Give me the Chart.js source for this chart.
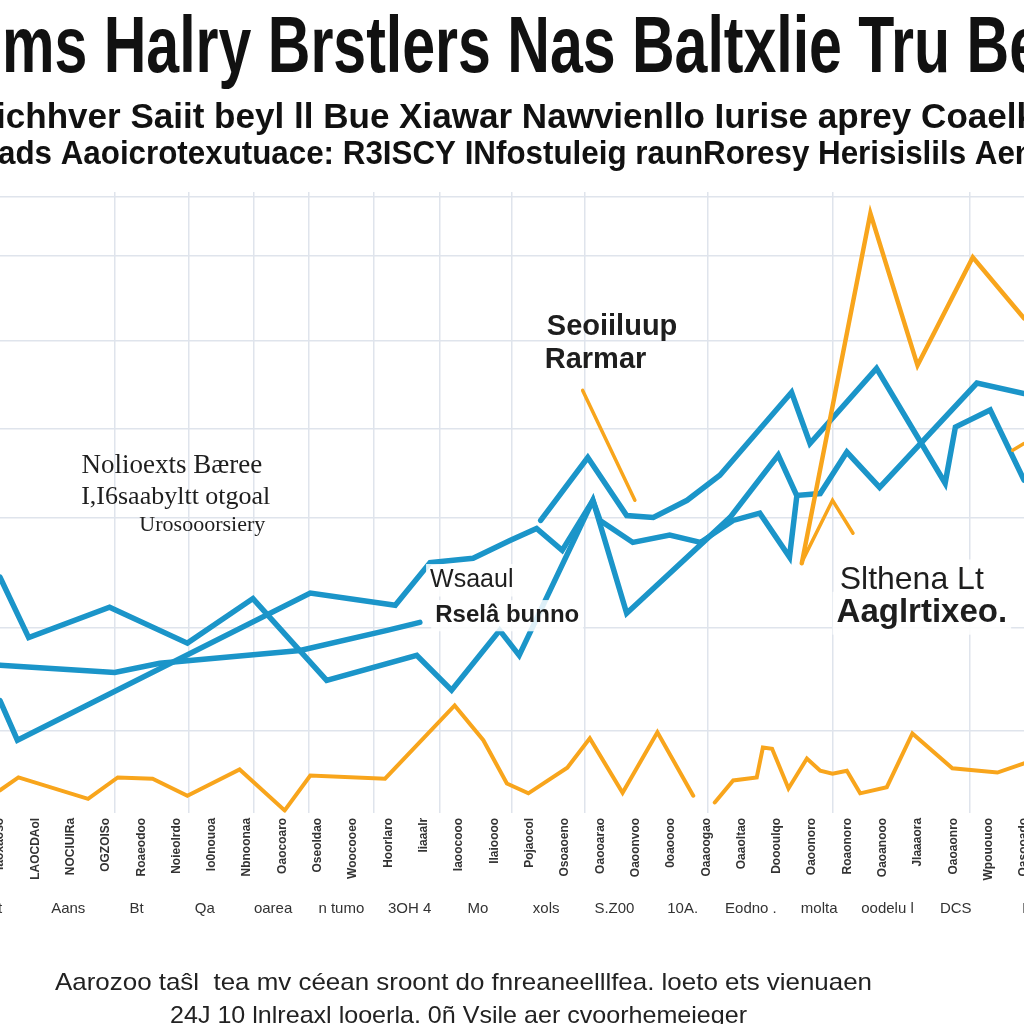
<!DOCTYPE html>
<html>
<head>
<meta charset="utf-8">
<script src="https://cdn.jsdelivr.net/npm/chart.js@4"></script>
<style>
  html, body { margin: 0; padding: 0; background: #fff; }
</style>
</head>
<body>
<canvas id="myChart" width="1024" height="1024"></canvas>
<script>
'use strict';

// texts
const titleText = 'ms Halry Brstlers Nas Baltxlie Tru Be';
const subtitleLines = [
  'ichhver Saiit beyl ll Bue Xiawar Nawvienllo Iurise aprey Coaelk',
  'ads Aaoicrotexutuace: R3ISCY INfostuleig raunRoresy Herisislils Aen',
];
const footerLines = [
  'Aarozoo taŝl  tea mv céean sroont do fnreaneelllfea. loeto ets vienuaen',
  '24J 10 lnlreaxl looerla. 0ñ Vsile aer cvoorhemeieger',
];

// category ticks (rotated) and the lower row of ticks
const categories = [
  'Iaoxaoso', 'LAOCDAol', 'NOCIUIRa', 'OGZOISo', 'Roaeodoo', 'Noieolrdo', 'lo0nouoa',
  'Nbnoonaa', 'Oaocoaro', 'Oseoldao', 'Woocooeo', 'Hoorlaro', 'Iiaaalr', 'Iaoocooo',
  'Ilaioooo', 'Pojaocol', 'Osoaoeno', 'Oaooarao', 'Oaoonvoo', '0oaoooo', 'Oaaoogao',
  'Oaaoltao', 'Doooulqo', 'Oaoonoro', 'Roaonoro', 'Oaoanooo', 'Jlaaaora', 'Oaoaonro',
  'Wpououoo', 'Oasooado',
];
const bottomLabels = [
  't', 'Aans', 'Bt', 'Qa', 'oarea', 'n tumo', '3OH 4', 'Mo', 'xols',
  'S.Z00', '10A.', 'Eodno .', 'molta', 'oodelu l', 'DCS', 'I',
];

// grid positions
const xGrid = [11.2, 18.4, 24.8, 30.2, 36.5, 42.9, 50.0, 57.1, 69.1, 81.3, 94.7];
const yGrid = [12.3, 29.2, 47.2, 61.8, 76.1, 90.0, 99.8];

// blue series
const blueAx = [0, 2.8, 10.7, 18.3, 24.7, 31.9, 40.7, 44.1, 48.8, 50.7, 57.9, 61.2, 71.3, 76.0, 77.8, 80.1, 82.7, 85.9, 95.4, 100];
const blueAy = [37.4, 27.5, 32.5, 26.6, 33.9, 20.5, 24.6, 18.9, 28.7, 24.6, 50.0, 31.5, 47.2, 57.4, 50.8, 51.1, 57.9, 52.1, 69.2, 67.5];

const blueBx = [52.8, 57.4, 61.2, 63.8, 67.1, 70.3, 77.3, 79.1, 85.6, 92.3, 93.3, 96.7, 100];
const blueBy = [46.7, 57.0, 47.5, 47.2, 50.0, 54.1, 67.7, 59.3, 71.6, 52.8, 62.0, 64.8, 53.3];

const blueCx = [0, 1.7, 30.3, 38.6, 42.0, 46.2, 49.8, 52.4, 54.9, 57.9, 58.6, 61.8, 65.4, 68.4, 71.6, 74.2, 77.1, 77.8];
const blueCy = [17.2, 10.7, 34.8, 32.8, 39.8, 40.5, 43.4, 45.4, 41.8, 50.0, 46.7, 43.1, 44.3, 43.1, 46.7, 47.9, 40.7, 50.5];

const blueDx = [0, 11.2, 15.6, 29.3, 37.8, 41.0];
const blueDy = [23.0, 21.8, 23.3, 25.4, 28.7, 30.0];

// orange series
const orangeAx = [0, 1.8, 8.6, 11.5, 14.9, 18.3, 23.4, 27.8, 30.3, 37.6, 44.4, 47.2, 49.5, 51.6, 55.4, 57.6, 60.8, 64.2, 67.7, 68.8,
  69.8, 71.6, 73.9, 74.5, 75.4, 77.0, 78.8, 80.1, 81.3, 82.7, 84.0, 86.6, 89.1, 93.0, 97.4, 100];
const orangeAy = [2.5, 4.6, 1.1, 4.6, 4.4, 1.6, 5.9, -0.8, 4.9, 4.4, 16.4, 10.7, 3.6, 2.0, 6.2, 11.0, 2.1, 12.0, 1.6, null,
  0.5, 4.1, 4.6, 9.5, 9.3, 2.8, 7.7, 5.7, 5.2, 5.7, 2.0, 3.0, 11.8, 6.1, 5.4, 6.9];

const orangeBx = [78.3, 85.0, 89.6, 95.0, 100];
const orangeBy = [39.7, 97.0, 72.1, 89.8, 79.8];

const orangeCx = [78.4, 81.3, 83.3];
const orangeCy = [40.2, 50.0, 44.6];

const orangeDx = [56.9, 62.0];
const orangeDy = [68.0, 50.0];

const orangeEx = [98.9, 100];
const orangeEy = [58.2, 59.3];

// notes written inside the plot
const notes = [
  { text: 'Nolioexts Bæree', x: 25.6, y: 55.7, align: 'right', size: 27, weight: 'normal', family: 'Liberation Serif' },
  { text: 'I,I6saabyltt otgoal', x: 26.4, y: 50.5, align: 'right', size: 26, weight: 'normal', family: 'Liberation Serif' },
  { text: 'Urosooorsiery', x: 25.9, y: 45.9, align: 'right', size: 22, weight: 'normal', family: 'Liberation Serif' },
  { text: 'Seoiiluup', x: 53.4, y: 78.4, align: 'left', size: 29, weight: 'bold', family: 'Liberation Sans' },
  { text: 'Rarmar', x: 53.2, y: 73.0, align: 'left', size: 29, weight: 'bold', family: 'Liberation Sans' },
  { text: 'Wsaaul', x: 42.0, y: 36.9, align: 'left', size: 25, weight: 'normal', family: 'Liberation Sans', box: true },
  { text: 'Rselâ bunno', x: 42.5, y: 31.1, align: 'left', size: 24, weight: 'bold', family: 'Liberation Sans', box: true },
  { text: 'Slthena Lt', x: 82.0, y: 36.9, align: 'left', size: 32, weight: 'normal', family: 'Liberation Sans', box: true },
  { text: 'Aaglrtixeo.', x: 81.7, y: 31.5, align: 'left', size: 33, weight: 'bold', family: 'Liberation Sans', box: true },
];

// title, subtitle and footer lines, squeezed to the width they take
const headings = [
  { text: titleText, y: 50, size: 80, weight: 'bold', left: 2, right: 1042, color: '#111' },
  { text: subtitleLines[0], y: 118, size: 35, weight: 'bold', left: -4, right: 1036, color: '#111' },
  { text: subtitleLines[1], y: 155, size: 34, weight: 'bold', left: -2, right: 1034, color: '#111' },
  { text: footerLines[0], y: 983, size: 24, weight: 'normal', left: 55, right: 872, color: '#222' },
  { text: footerLines[1], y: 1016, size: 24, weight: 'normal', left: 170, right: 747, color: '#222' },
];

const blue = '#1b95c9';
const orange = '#f8a51c';
const gridColor = '#dfe4ec';
const sans = "'Liberation Sans', Arial, sans-serif";

function points(xs, ys) {
  return xs.map((x, i) => ({ x: x, y: ys[i] }));
}

function line(xs, ys, color, width) {
  return {
    data: points(xs, ys),
    xAxisID: 'xv',
    borderColor: color,
    borderWidth: width,
    pointRadius: 0,
    tension: 0,
    fill: false,
    spanGaps: false,
    borderCapStyle: 'round',
  };
}

const notePlugin = {
  id: 'notes',
  afterDatasetsDraw(chart) {
    const ctx = chart.ctx;
    const xs = chart.scales.xv;
    const ys = chart.scales.y;
    ctx.save();
    notes.forEach(n => {
      const px = xs.getPixelForValue(n.x);
      const py = ys.getPixelForValue(n.y);
      ctx.font = n.weight + ' ' + n.size + 'px "' + n.family + '", sans-serif';
      ctx.textAlign = n.align;
      ctx.textBaseline = 'middle';
      if (n.box) {
        const w = ctx.measureText(n.text).width;
        const left = n.align === 'left' ? px - 4 : px - w - 4;
        ctx.fillStyle = 'rgba(255,255,255,0.85)';
        ctx.fillRect(left, py - n.size * 0.65, w + 8, n.size * 1.3);
      }
      ctx.fillStyle = '#1e1e1e';
      ctx.fillText(n.text, px, py);
    });
    ctx.restore();
  },
};

const headingPlugin = {
  id: 'headings',
  afterDraw(chart) {
    const ctx = chart.ctx;
    ctx.save();
    headings.forEach(h => {
      ctx.font = h.weight + ' ' + h.size + 'px ' + sans;
      ctx.textAlign = 'center';
      ctx.textBaseline = 'middle';
      ctx.fillStyle = h.color;
      const w = ctx.measureText(h.text).width;
      ctx.save();
      ctx.translate((h.left + h.right) / 2, h.y);
      ctx.scale((h.right - h.left) / w, 1);
      ctx.fillText(h.text, 0, 0);
      ctx.restore();
    });
    ctx.restore();
  },
};

function noPad(scale) {
  scale.paddingLeft = 0;
  scale.paddingRight = 0;
}

const config = {
  type: 'line',
  data: {
    labels: categories,
    datasets: [
      line(orangeAx, orangeAy, orange, 4),
      line(orangeBx, orangeBy, orange, 4.5),
      line(orangeCx, orangeCy, orange, 3.5),
      line(orangeDx, orangeDy, orange, 3.5),
      line(orangeEx, orangeEy, orange, 3.5),
      line(blueDx, blueDy, blue, 5.5),
      line(blueCx, blueCy, blue, 5.5),
      line(blueAx, blueAy, blue, 5.5),
      line(blueBx, blueBy, blue, 5.5),
    ],
  },
  options: {
    responsive: false,
    animation: false,
    layout: { padding: { top: 192, left: 0, right: 0, bottom: 92.5 } },
    scales: {
      xv: {
        type: 'linear',
        position: 'bottom',
        weight: 0,
        min: 0,
        max: 100,
        afterBuildTicks: s => { s.ticks = xGrid.map(v => ({ value: v })); },
        afterFit: noPad,
        ticks: { display: false },
        grid: { color: gridColor, lineWidth: 1.5, drawTicks: false },
        border: { display: false },
      },
      x: {
        type: 'category',
        position: 'bottom',
        weight: 1,
        offset: false,
        afterFit: noPad,
        grid: { display: false, drawTicks: false },
        border: { display: false },
        ticks: {
          autoSkip: false,
          minRotation: 90,
          maxRotation: 90,
          padding: 5,
          color: '#333',
          font: { family: sans, size: 12, weight: 'bold' },
        },
      },
      x2: {
        type: 'category',
        position: 'bottom',
        weight: 2,
        offset: false,
        labels: bottomLabels,
        afterFit: noPad,
        grid: { display: false, drawTicks: false },
        border: { display: false },
        ticks: {
          autoSkip: false,
          maxRotation: 0,
          padding: 14,
          color: '#333',
          font: { family: sans, size: 15 },
        },
      },
      y: {
        min: -1.2,
        max: 100.5,
        afterBuildTicks: s => { s.ticks = yGrid.map(v => ({ value: v })); },
        ticks: { display: false },
        grid: { color: gridColor, lineWidth: 1.5, drawTicks: false },
        border: { display: false },
      },
    },
    plugins: {
      legend: { display: false },
      tooltip: { enabled: false },
      title: { display: false },
      subtitle: { display: false },
    },
  },
  plugins: [notePlugin, headingPlugin],
};

let chartCanvas = document.getElementById('myChart').getContext('2d');
const myChart = new Chart(chartCanvas, config);
</script>
</body>
</html>
